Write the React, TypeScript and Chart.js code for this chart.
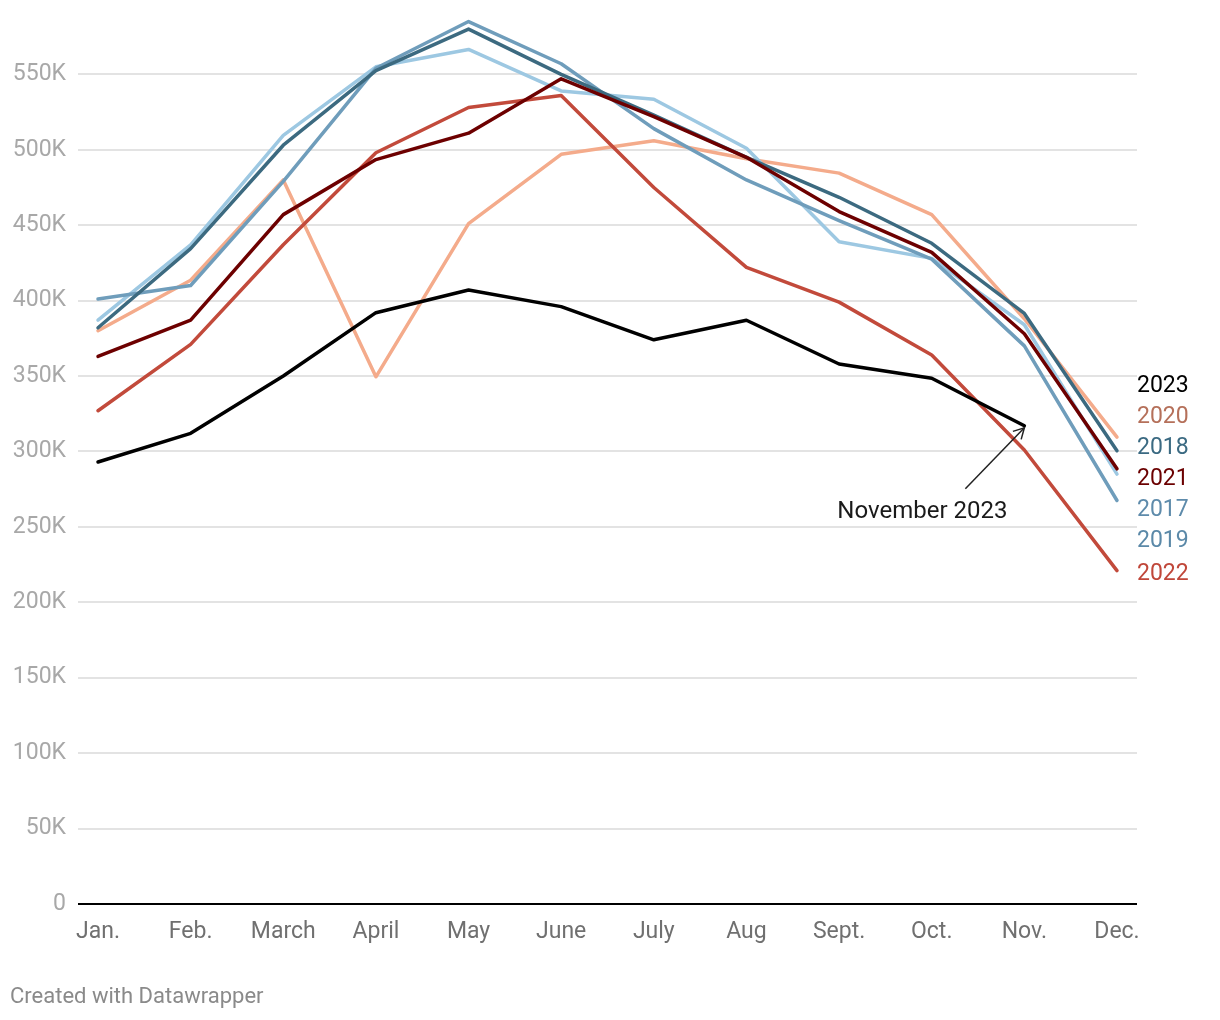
import React, { useEffect, useRef } from "react";
import { Chart, registerables } from "chart.js";

Chart.register(...registerables);

const months = ["Jan.", "Feb.", "March", "April", "May", "June", "July", "Aug", "Sept.", "Oct.", "Nov.", "Dec."];

const years = ["2023", "2022", "2021", "2020", "2019", "2018", "2017"];

const y2023 = [293000, 312000, 350000, 392000, 407000, 396000, 374000, 387000, 358000, 348500, 317000, null];
const y2022 = [327000, 371000, 437000, 498000, 528000, 536000, 475000, 422000, 399000, 364000, 301000, 221000];
const y2021 = [363000, 387000, 457000, 493500, 511000, 547000, 522000, 495000, 459000, 432000, 378000, 288500];
const y2020 = [380000, 413500, 480000, 349500, 451000, 497000, 506000, 494000, 484500, 457000, 388000, 309500];
const y2019 = [401000, 410000, 479000, 554000, 585000, 557000, 514000, 480000, 453000, 427500, 370000, 267500];
const y2018 = [382000, 434500, 503000, 552500, 580000, 550000, 523000, 495000, 468500, 438000, 391500, 300500];
const y2017 = [387000, 437000, 509500, 555000, 566500, 539000, 533500, 501000, 439000, 428000, 384000, 285000];

const yTicks = [0, 50000, 100000, 150000, 200000, 250000, 300000, 350000, 400000, 450000, 500000, 550000];

const annotationText = "November 2023";
const footerText = "Created with Datawrapper";

const seriesValues = [y2023, y2022, y2021, y2020, y2019, y2018, y2017];
const lineColors = ["#000000", "#c24a3b", "#6d0000", "#f4ab8b", "#6f9dbb", "#3c6a80", "#9dc8e2"];
const labelColors = ["#000000", "#c0473a", "#6b0000", "#b5705a", "#5b89a8", "#3b6a82", "#5e8bab"];
const drawOrder = [0, 2, 1, 6, 4, 3, 5]; // lower = on top

const FONT = "Roboto, 'Noto Sans', sans-serif";

const overlayPlugin = {
  id: "overlay",
  afterDatasetsDraw(chart: any) {
    const ctx = chart.ctx;
    const xs = chart.scales.x;
    const ys = chart.scales.y;
    const area = chart.chartArea;

    // end labels with collision avoidance
    const items = seriesValues.map((vals, i) => {
      let last = vals.length - 1;
      while (last >= 0 && vals[last] == null) last--;
      return { i, target: ys.getPixelForValue(vals[last] as number), pos: 0 };
    });
    items.sort((a, b) => a.target - b.target);
    const gap = 31;
    let clusters: any[] = items.map((it) => ({ items: [it] }));
    const place = (c: any) => {
      const mean = c.items.reduce((s: number, it: any) => s + it.target, 0) / c.items.length;
      const n = c.items.length;
      c.items.forEach((it: any, k: number) => (it.pos = mean + (k - (n - 1) / 2) * gap));
    };
    clusters.forEach(place);
    let merged = true;
    while (merged) {
      merged = false;
      for (let k = 1; k < clusters.length; k++) {
        const prev = clusters[k - 1];
        const cur = clusters[k];
        const a = prev.items[prev.items.length - 1].pos;
        const b = cur.items[0].pos;
        if (b - a < gap) {
          prev.items = prev.items.concat(cur.items);
          place(prev);
          clusters.splice(k, 1);
          merged = true;
          break;
        }
      }
    }
    ctx.save();
    ctx.font = `23px ${FONT}`;
    ctx.textAlign = "left";
    ctx.textBaseline = "middle";
    items.forEach((it) => {
      ctx.fillStyle = labelColors[it.i];
      ctx.fillText(years[it.i], area.right, it.pos + 4);
    });

    // annotation arrow
    const ni = 10;
    const tipX = xs.getPixelForValue(ni);
    const tipY = ys.getPixelForValue(y2023[ni] as number) + 2;
    const tailX = tipX - 59;
    const tailY = tipY + 61;
    ctx.strokeStyle = "#222";
    ctx.lineWidth = 1.5;
    ctx.beginPath();
    ctx.moveTo(tailX, tailY);
    ctx.lineTo(tipX, tipY);
    ctx.stroke();
    const ang = Math.atan2(tipY - tailY, tipX - tailX);
    const hl = 12;
    ctx.beginPath();
    ctx.moveTo(tipX - hl * Math.cos(ang - 0.5), tipY - hl * Math.sin(ang - 0.5));
    ctx.lineTo(tipX, tipY);
    ctx.lineTo(tipX - hl * Math.cos(ang + 0.5), tipY - hl * Math.sin(ang + 0.5));
    ctx.stroke();
    ctx.fillStyle = "#1a1a1a";
    ctx.font = `24px ${FONT}`;
    ctx.textAlign = "center";
    ctx.textBaseline = "middle";
    ctx.fillText(annotationText, tipX - 102, tipY + 84);

    // footer
    ctx.fillStyle = "#8a8a8a";
    ctx.font = `22px ${FONT}`;
    ctx.textAlign = "left";
    ctx.fillText(footerText, 10, 997);
    ctx.restore();
  },
};

export default function App() {
  const ref = useRef<HTMLCanvasElement | null>(null);
  useEffect(() => {
    document.body.style.margin = "0";
    const canvas = ref.current;
    if (!canvas) return;
    const datasets = seriesValues.map((vals, i) => ({
      label: years[i],
      data: vals.map((v, k) => ({ x: k, y: v })),
      borderColor: lineColors[i],
      backgroundColor: lineColors[i],
      borderWidth: 3.5,
      pointRadius: 0,
      tension: 0,
      spanGaps: false,
      order: drawOrder[i],
      borderJoinStyle: "round" as const,
      borderCapStyle: "round" as const,
    }));
    const chart = new Chart(canvas, {
      type: "line",
      data: { datasets },
      plugins: [overlayPlugin],
      options: {
        animation: false,
        responsive: false,
        maintainAspectRatio: false,
        layout: { padding: { top: 14, right: 83, bottom: 66, left: 0 } },
        plugins: { legend: { display: false }, tooltip: { enabled: false } },
        scales: {
          x: {
            type: "linear",
            min: -0.216,
            max: 11.216,
            grid: { display: false },
            border: { display: false },
            afterBuildTicks: (axis: any) => {
              axis.ticks = months.map((_, k) => ({ value: k }));
            },
            afterFit: (axis: any) => {
              axis.height = 50;
              axis.paddingLeft = 0;
              axis.paddingRight = 0;
            },
            ticks: {
              autoSkip: false,
              maxRotation: 0,
              padding: 6,
              color: "#707070",
              font: { family: FONT, size: 23 },
              callback: (v: any) => months[v as number] ?? "",
            },
          },
          y: {
            type: "linear",
            min: 0,
            max: 590000,
            border: { display: false },
            afterBuildTicks: (axis: any) => {
              axis.ticks = yTicks.map((v) => ({ value: v }));
            },
            afterFit: (axis: any) => {
              axis.width = 78;
              axis.paddingTop = 0;
              axis.paddingBottom = 0;
            },
            grid: {
              drawTicks: false,
              color: (c: any) => (c.tick && c.tick.value === 0 ? "#000000" : "#e3e3e3"),
              lineWidth: 2,
            },
            ticks: {
              padding: 12,
              color: "#a8a8a8",
              font: { family: FONT, size: 23 },
              callback: (v: any) => (v === 0 ? "0" : `${Math.round((v as number) / 1000)}K`),
            },
          },
        },
      },
    });
    return () => chart.destroy();
  }, []);
  return (
    <div style={{ width: 1220, height: 1020 }}>
      <canvas ref={ref} width={1220} height={1020} style={{ display: "block" }} />
    </div>
  );
}
